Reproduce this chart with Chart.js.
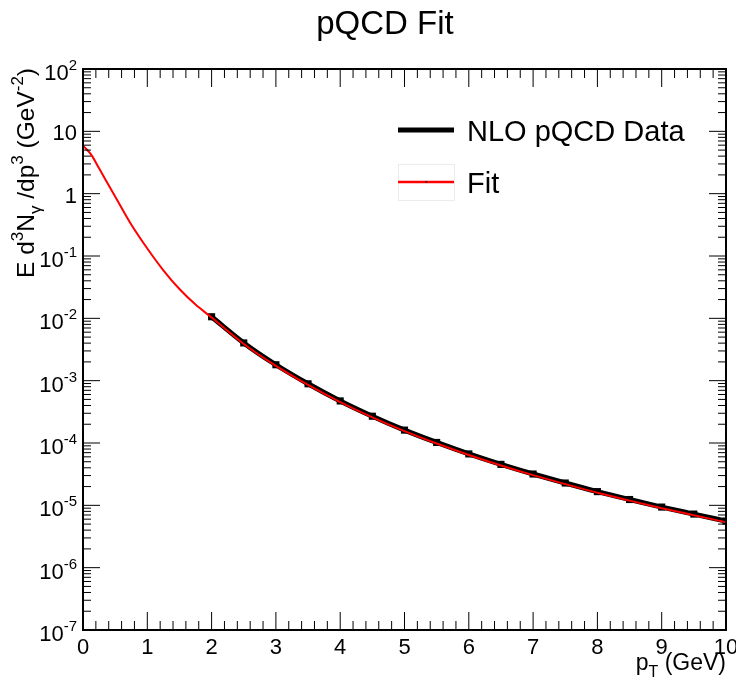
<!DOCTYPE html>
<html><head><meta charset="utf-8">
<script src="https://cdn.jsdelivr.net/npm/chart.js@4/dist/chart.umd.min.js"></script>
<style>html,body{margin:0;padding:0;background:#fff;}canvas{display:block;}</style>
</head><body>
<canvas id="c" width="736" height="682"></canvas>
<script>
// ---- data ----
const fitX = [0, 0.13, 0.25, 0.5, 0.75, 1, 1.25, 1.5, 1.75, 2, 2.5, 3, 3.5, 4, 4.5, 5, 5.5, 6, 6.5, 7, 7.5, 8, 8.5, 9, 9.5, 10];
const fitY = [5.9, 4.2, 2.55, 0.9, 0.32, 0.132, 0.059, 0.0295, 0.0166, 0.0103, 3.88e-3, 1.73e-3, 8.55e-4, 4.54e-4, 2.58e-4, 1.55e-4, 9.8e-5, 6.42e-5, 4.36e-5, 3.05e-5, 2.19e-5, 1.59e-5, 1.19e-5, 9.0e-6, 6.95e-6, 5.35e-6];
const dataX = [2, 2.5, 3, 3.5, 4, 4.5, 5, 5.5, 6, 6.5, 7, 7.5, 8, 8.5, 9, 9.5, 10];
const dataY = [1.06e-2, 4.03e-3, 1.80e-3, 8.91e-4, 4.73e-4, 2.69e-4, 1.61e-4, 1.02e-4, 6.68e-5, 4.54e-5, 3.18e-5, 2.28e-5, 1.66e-5, 1.24e-5, 9.38e-6, 7.24e-6, 5.6e-6];
const xTickLabels = ['0','1','2','3','4','5','6','7','8','9','10'];
const yTickValues = [1e-7, 1e-6, 1e-5, 1e-4, 1e-3, 1e-2, 1e-1, 1, 10, 100];
const yTickLabels = ['10^-7','10^-6','10^-5','10^-4','10^-3','10^-2','10^-1','1','10','10^2'];
const titleText = 'pQCD Fit';
const seriesNames = ['NLO pQCD Data', 'Fit'];

const FONT = '"Liberation Sans", Arial, Helvetica, sans-serif';

// draw a sequence of [text, kind] parts (kind: 'n' normal, 'u' superscript, 'd' subscript)
function partsWidth(ctx, parts, size) {
  let w = 0;
  for (const [t, k] of parts) {
    ctx.font = (k === 'n' ? size : Math.round(size * 0.68)) + 'px ' + FONT;
    w += ctx.measureText(t).width;
  }
  return w;
}
function drawParts(ctx, parts, x, y, size) {
  let cx = x;
  ctx.textAlign = 'left';
  ctx.textBaseline = 'alphabetic';
  for (const [t, k] of parts) {
    const s = k === 'n' ? size : Math.round(size * 0.68);
    ctx.font = s + 'px ' + FONT;
    const dy = k === 'u' ? -size * 0.45 : (k === 'd' ? size * 0.3 : 0);
    ctx.fillText(t, cx, y + dy);
    cx += ctx.measureText(t).width;
  }
}

const rootFrame = {
  id: 'rootFrame',
  afterDraw(chart) {
    const {ctx, chartArea: {left, right, top, bottom}, scales: {x, y}} = chart;
    ctx.save();
    ctx.fillStyle = '#000';
    ctx.strokeStyle = '#000';
    // ticks
    ctx.lineWidth = 1;
    ctx.beginPath();
    for (let i = 0; i <= 50; i++) {
      const px = x.getPixelForValue(i / 5);
      const len = i % 5 === 0 ? 18 : 9;
      ctx.moveTo(px, bottom); ctx.lineTo(px, bottom - len);
      ctx.moveTo(px, top); ctx.lineTo(px, top + len);
    }
    for (let e = -7; e <= 2; e++) {
      for (let m = 1; m <= 9; m++) {
        if (e === 2 && m > 1) break;
        const v = m * Math.pow(10, e);
        const py = y.getPixelForValue(v);
        const len = m === 1 ? 17 : 8;
        ctx.moveTo(left, py); ctx.lineTo(left + len, py);
        ctx.moveTo(right, py); ctx.lineTo(right - len, py);
      }
    }
    ctx.stroke();
    // frame
    ctx.lineWidth = 2;
    ctx.strokeRect(left, top, right - left, bottom - top);

    // x tick labels
    ctx.font = '22px ' + FONT;
    ctx.textAlign = 'center';
    ctx.textBaseline = 'alphabetic';
    xTickLabels.forEach((lab, i) => {
      ctx.fillText(lab, x.getPixelForValue(Number(lab)), bottom + 24);
    });
    // y tick labels
    yTickValues.forEach((v, i) => {
      const py = y.getPixelForValue(v);
      const lab = yTickLabels[i];
      const [b, ex] = lab.split('^');
      const parts = ex ? [[b, 'n'], [ex, 'u']] : [[b, 'n']];
      const w = partsWidth(ctx, parts, 22);
      const base = ex ? py + 11 : py + 9;
      drawParts(ctx, parts, 77 - w, base, 22);
    });

    // title
    ctx.font = '33px ' + FONT;
    ctx.textAlign = 'center';
    ctx.fillText(titleText, 385, 34);

    // x axis title (right aligned at axis end)
    const xt = [['p', 'n'], ['T', 'd'], [' (GeV)', 'n']];
    const xw = partsWidth(ctx, xt, 23);
    drawParts(ctx, xt, right - xw, 670, 23);

    // y axis title rotated, right aligned at top of axis
    const yt = [['E d', 'n'], ['3', 'u'], ['N', 'n'], ['\u03b3', 'd'], [' /dp', 'n'], ['3', 'u'], [' (GeV', 'n'], ['-2', 'u'], [')', 'n']];
    const yw = partsWidth(ctx, yt, 24.5);
    ctx.save();
    ctx.translate(34, top - 1);
    ctx.rotate(-Math.PI / 2);
    drawParts(ctx, yt, -yw, 0, 24.5);
    ctx.restore();

    // legend
    ctx.lineCap = 'butt';
    ctx.strokeStyle = '#000';
    ctx.lineWidth = 5;
    ctx.beginPath(); ctx.moveTo(398, 130); ctx.lineTo(454, 130); ctx.stroke();
    ctx.strokeStyle = '#ececec';
    ctx.lineWidth = 1;
    ctx.strokeRect(398.5, 164.5, 56, 36);
    ctx.strokeStyle = '#ff0000';
    ctx.lineWidth = 2.5;
    ctx.beginPath(); ctx.moveTo(398, 182); ctx.lineTo(454, 182); ctx.stroke();
    ctx.fillStyle = '#000';
    ctx.fillRect(425.5, 181, 1.5, 1.5);
    ctx.font = '29px ' + FONT;
    ctx.textAlign = 'left';
    ctx.fillText(seriesNames[0], 467, 141);
    ctx.fillText(seriesNames[1], 467, 193);
    ctx.restore();
  }
};

new Chart(document.getElementById('c'), {
  type: 'line',
  data: {
    datasets: [
      {
        label: seriesNames[1],
        data: fitX.map((v, i) => ({x: v, y: fitY[i]})),
        borderColor: '#ff0000',
        borderWidth: 2,
        pointRadius: 0,
        cubicInterpolationMode: 'monotone',
        fill: false,
        order: 0
      },
      {
        label: seriesNames[0],
        data: dataX.map((v, i) => ({x: v, y: dataY[i]})),
        borderColor: '#000',
        borderWidth: 5,
        pointRadius: 1.5,
        pointStyle: 'rect',
        pointBackgroundColor: '#000',
        pointBorderColor: '#000',
        cubicInterpolationMode: 'monotone',
        fill: false,
        order: 1
      }
    ]
  },
  options: {
    responsive: false,
    animation: false,
    devicePixelRatio: 1,
    layout: {padding: {left: 83, right: 10, top: 69, bottom: 52}},
    scales: {
      x: {type: 'linear', min: 0, max: 10, display: false},
      y: {type: 'logarithmic', min: 1e-7, max: 100, display: false}
    },
    plugins: {legend: {display: false}, title: {display: false}, tooltip: {enabled: false}}
  },
  plugins: [rootFrame]
});
</script>
</body></html>
